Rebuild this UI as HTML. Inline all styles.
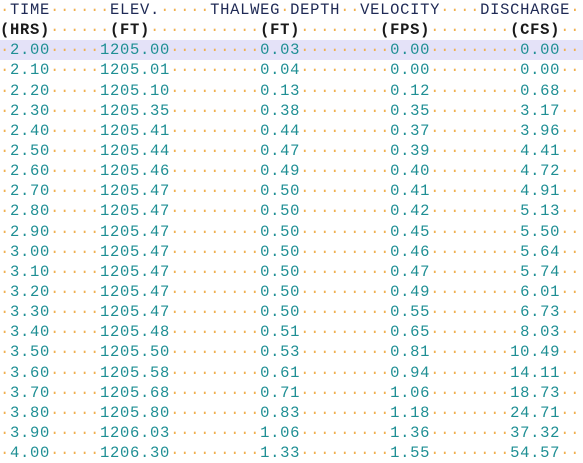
<!DOCTYPE html>
<html><head><meta charset="utf-8">
<style>
html,body{margin:0;padding:0;background:#fff;width:583px;height:462px;overflow:hidden}
#t{position:absolute;left:0;top:0;font-family:"Liberation Mono",monospace;font-size:15.5px;letter-spacing:0.7px;line-height:20.15px;white-space:pre}
.ln{height:20.15px;position:relative}
.hl{background:#e4e2f8}
.d{color:#f0b050}
.h1{color:#1f2a55}
.h2{color:#1a1a1a;font-weight:bold}
.v{color:#1f8f94}
</style></head><body>
<div id="t"></div>
<script>
const times=["2.00","2.10","2.20","2.30","2.40","2.50","2.60","2.70","2.80","2.90","3.00","3.10","3.20","3.30","3.40","3.50","3.60","3.70","3.80","3.90","4.00"];
const elevs=["1205.00","1205.01","1205.10","1205.35","1205.41","1205.44","1205.46","1205.47","1205.47","1205.47","1205.47","1205.47","1205.47","1205.47","1205.48","1205.50","1205.58","1205.68","1205.80","1206.03","1206.30"];
const depths=["0.03","0.04","0.13","0.38","0.44","0.47","0.49","0.50","0.50","0.50","0.50","0.50","0.50","0.50","0.51","0.53","0.61","0.71","0.83","1.06","1.33"];
const vels=["0.00","0.00","0.12","0.35","0.37","0.39","0.40","0.41","0.42","0.45","0.46","0.47","0.49","0.55","0.65","0.81","0.94","1.06","1.18","1.36","1.55"];
const discs=["0.00","0.00","0.68","3.17","3.96","4.41","4.72","4.91","5.13","5.50","5.64","5.74","6.01","6.73","8.03","10.49","14.11","18.73","24.71","37.32","54.57"];
const W=59;
const t=document.getElementById('t');
function esc(s){return s.replace(/&/g,'&amp;').replace(/</g,'&lt;');}
function build(items,cls){
  let arr=new Array(W).fill(null);
  items.forEach(([c,s])=>{for(let i=0;i<s.length;i++)arr[c+i]=s[i];});
  let html='';let i=0;
  while(i<W){
    if(arr[i]===null||arr[i]===' '){let s='';while(i<W&&(arr[i]===null||arr[i]===' ')){s+='\u00b7';i++;}html+='<span class="d">'+s+'</span>';}
    else{let s='';while(i<W&&arr[i]!==null&&arr[i]!==' '){s+=arr[i];i++;}html+='<span class="'+cls+'">'+esc(s)+'</span>';}
  }
  return html;
}
function addLine(html,name,extra){
  const d=document.createElement('div');
  d.className='ln'+(extra?' '+extra:'');
  
  
  d.innerHTML=html;t.appendChild(d);
}
addLine(build([[1,"TIME"],[11,"ELEV."],[21,"THALWEG"],[29,"DEPTH"],[36,"VELOCITY"],[48,"DISCHARGE"]],'h1'),'header-row');
addLine(build([[0,"(HRS)"],[11,"(FT)"],[26,"(FT)"],[38,"(FPS)"],[51,"(CFS)"]],'h2'),'units-row');
for(let k=0;k<times.length;k++){
  const r=(c,s)=>[c-s.length+1,s];
  addLine(build([r(4,times[k]),r(16,elevs[k]),r(29,depths[k]),r(42,vels[k]),r(55,discs[k])],'v'),'data-row',k===0?'hl':'');
}
</script>
</body></html>
